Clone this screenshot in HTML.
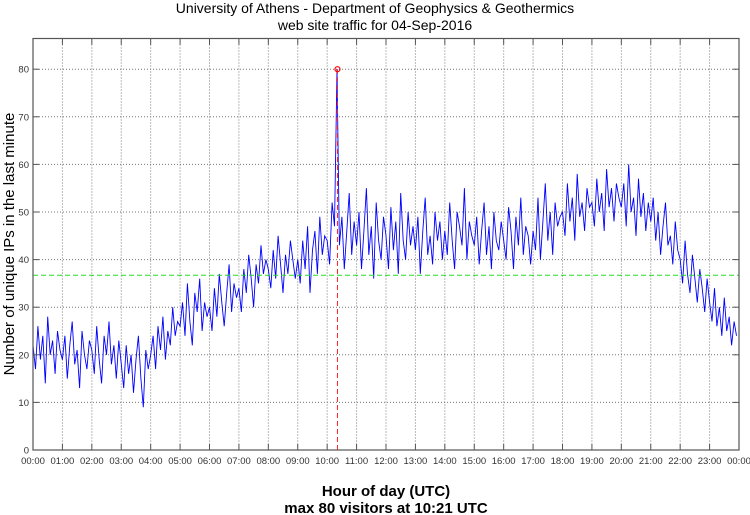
<!DOCTYPE html>
<html><head><meta charset="utf-8"><style>
html,body{margin:0;padding:0;background:#fff;}
svg{display:block;font-family:"Liberation Sans",sans-serif;}
</style></head><body>
<svg id="chart" width="750" height="515">
<text x="375" y="13" text-anchor="middle" font-size="14">University of Athens - Department of Geophysics &amp; Geothermics</text>
<text x="375" y="30" text-anchor="middle" font-size="14">web site traffic for 04-Sep-2016</text>
<text transform="translate(14,244) rotate(-90)" text-anchor="middle" font-size="15">Number of unique IPs in the last minute</text>
<text x="386" y="496" text-anchor="middle" font-size="15" font-weight="bold">Hour of day (UTC)</text>
<text x="386" y="513" text-anchor="middle" font-size="15" font-weight="bold">max 80 visitors at 10:21 UTC</text>
<g id="grid"></g><g id="series"></g><g id="axes"></g>
</svg>
<script>
const hourLabels=["00:00","01:00","02:00","03:00","04:00","05:00","06:00","07:00","08:00","09:00","10:00","11:00","12:00","13:00","14:00","15:00","16:00","17:00","18:00","19:00","20:00","21:00","22:00","23:00","00:00"];
const yTicks=[0,10,20,30,40,50,60,70,80];
const visitors=[
22,17,26,19,24,14,28,20,23,16,25,21,
19,24,15,22,27,18,21,13,25,20,17,23,
21,16,26,19,14,24,20,27,18,22,15,23,
18,13,22,16,20,12,19,24,15,9,21,17,
20,24,17,26,21,28,19,25,22,30,24,27,
26,31,24,35,27,22,33,29,36,25,31,28,
30,25,34,28,37,31,26,33,39,29,35,32,
34,29,38,33,41,36,30,39,35,43,37,40,
38,34,42,36,45,39,33,41,37,44,40,36,
40,35,44,38,47,33,42,46,37,49,41,45,
44,39,52,47,80,43,49,38,46,54,41,48,
43,50,38,46,55,41,47,36,52,44,40,49,
45,38,51,42,48,37,54,44,40,50,43,47,
42,49,37,46,53,41,45,39,50,44,48,40,
46,41,52,44,38,50,47,43,55,40,48,45,
43,49,39,46,52,41,47,38,50,44,42,48,
44,40,51,46,38,49,43,53,41,47,45,39,
46,42,53,40,48,56,44,50,41,52,47,49,
50,45,56,48,53,44,58,49,52,46,55,51,
52,47,57,50,54,46,59,51,55,48,56,53,
51,56,47,60,50,53,45,57,49,54,46,52,
48,53,44,50,41,47,52,43,45,39,48,42,
40,35,44,37,33,41,36,31,38,34,29,36,
31,27,34,26,30,24,32,25,28,22,27,24];
const meanValue=[36.7];
const maxPoint=[10+21/60,80];
const NS="http://www.w3.org/2000/svg";
const L=33,R=739,T=38.5,B=450;
const xs=h=>L+(R-L)*h/24;
const ys=v=>B-v*4.76;
function mk(tag,attrs,parent){const e=document.createElementNS(NS,tag);for(const k in attrs)e.setAttribute(k,attrs[k]);parent.appendChild(e);return e;}
const grid=document.getElementById('grid'),axes=document.getElementById('axes'),series=document.getElementById('series');
hourLabels.forEach((lab,i)=>{
 const x=xs(i);
 if(i>0&&i<24){const g=mk('line',{x1:x,x2:x,y1:T,y2:B,stroke:'#777','stroke-dasharray':'1,2','stroke-width':1},grid);
 
 }
 const tk=mk('line',{x1:x,x2:x,y1:B,y2:B-6,stroke:'#555'},axes);
 
 
 const tk2=mk('line',{x1:x,x2:x,y1:T,y2:T+6,stroke:'#555'},axes);
 
 
 const t=mk('text',{x:x,y:B+14,'text-anchor':'middle','font-size':'9.5',fill:'#333'},axes);t.textContent=lab;
 
 
});
yTicks.forEach(v=>{
 const y=ys(v);
 if(v>0){const g=mk('line',{x1:L,x2:R,y1:y,y2:y,stroke:'#777','stroke-dasharray':'1,2'},grid);
 
 }
 const tk=mk('line',{x1:L,x2:L+6,y1:y,y2:y,stroke:'#555'},axes);
 
 
 const tk2=mk('line',{x1:R-6,x2:R,y1:y,y2:y,stroke:'#555'},axes);
 
 
 const t=mk('text',{x:L-4,y:y+3.5,'text-anchor':'end','font-size':'9.5',fill:'#333'},axes);t.textContent=v;
 
 
});
const frame=mk('rect',{x:L,y:T,width:R-L,height:B-T,fill:'none',stroke:'#555','stroke-width':1.2},axes);


const pts=visitors.map((v,i)=>xs(i*24/visitors.length).toFixed(1)+','+ys(v).toFixed(1)).join(' ');
const line=mk('polyline',{points:pts,fill:'none',stroke:'#0000ff','stroke-width':0.9},series);


const mean=mk('line',{x1:L,x2:R,y1:ys(meanValue[0]),y2:ys(meanValue[0]),stroke:'#22dd22','stroke-dasharray':'5,3'},series);


const mx=xs(maxPoint[0]);
const vl=mk('line',{x1:mx,x2:mx,y1:ys(0),y2:ys(maxPoint[1]),stroke:'#ff2020','stroke-dasharray':'5,3'},series);


const c=mk('circle',{cx:mx,cy:ys(maxPoint[1]),r:2.5,fill:'none',stroke:'#ff0000','stroke-width':1.2},series);


</script>
</body></html>
